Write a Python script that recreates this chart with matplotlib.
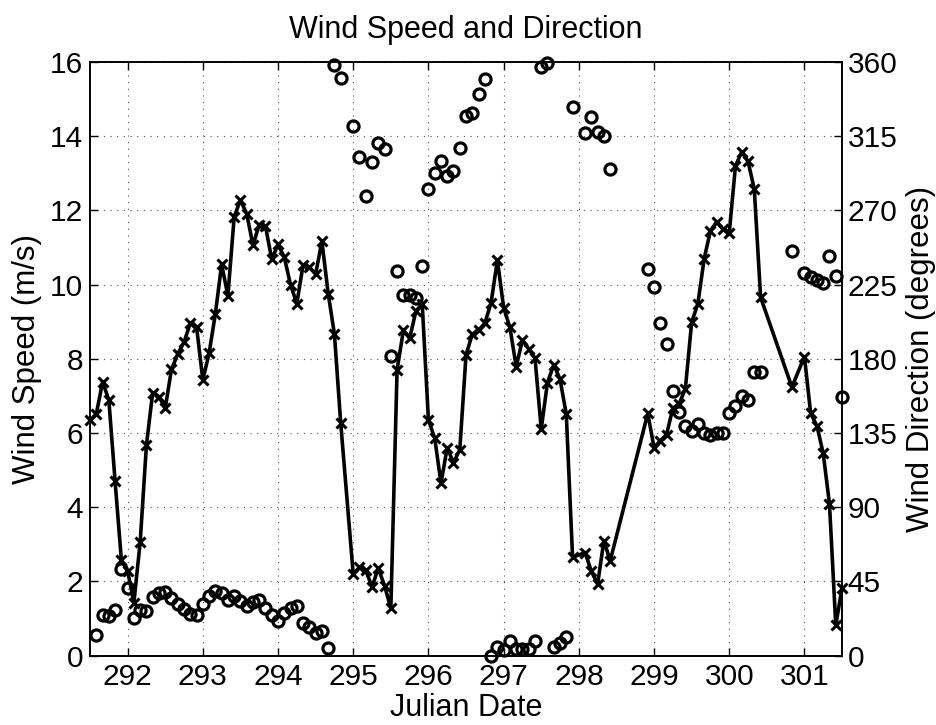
import numpy as np
import matplotlib
matplotlib.use('Agg')
from matplotlib import pyplot as plt

# two-hourly samples (julian day), with gaps where the logger dropped out
julian_date = [
    291.500, 291.583, 291.667, 291.750, 291.833, 291.917, 292.000, 292.083,
    292.167, 292.250, 292.333, 292.417, 292.500, 292.583, 292.667, 292.750,
    292.833, 292.917, 293.000, 293.083, 293.167, 293.250, 293.333, 293.417,
    293.500, 293.583, 293.667, 293.750, 293.833, 293.917, 294.000, 294.083,
    294.167, 294.250, 294.333, 294.417, 294.500, 294.583, 294.667, 294.750,
    294.833,
    295.000, 295.083, 295.167, 295.250, 295.333, 295.417, 295.500, 295.583,
    295.667, 295.750, 295.833, 295.917, 296.000, 296.083, 296.167, 296.250,
    296.333, 296.417, 296.500, 296.583, 296.667, 296.750, 296.833, 296.917,
    297.000, 297.083, 297.167, 297.250, 297.333, 297.417, 297.500, 297.583,
    297.667, 297.750, 297.833, 297.917,
    298.083, 298.167, 298.250, 298.333, 298.417,
    298.917, 299.000, 299.083, 299.167, 299.250, 299.333, 299.417, 299.500,
    299.583, 299.667, 299.750, 299.833, 299.917, 300.000, 300.083, 300.167,
    300.250, 300.333, 300.417,
    300.833,
    301.000, 301.083, 301.167, 301.250, 301.333, 301.417, 301.500,
]

# m/s
wind_speed = [
    6.35, 6.51, 7.38, 6.89, 4.70, 2.57, 2.28, 1.43,
    3.07, 5.68, 7.09, 6.98, 6.67, 7.72, 8.13, 8.45,
    8.96, 8.85, 7.43, 8.15, 9.22, 10.55, 9.70, 11.83,
    12.28, 11.91, 11.06, 11.62, 11.57, 10.68, 11.09, 10.74,
    9.99, 9.49, 10.53, 10.47, 10.28, 11.17, 9.76, 8.66,
    6.28,
    2.19, 2.38, 2.30, 1.85, 2.36, 1.88, 1.28, 7.70,
    8.77, 8.55, 9.28, 9.49, 6.35, 5.87, 4.65, 5.61,
    5.20, 5.55, 8.11, 8.66, 8.77, 8.96, 9.51, 10.66,
    9.38, 8.85, 7.79, 8.51, 8.27, 8.02, 6.11, 7.36,
    7.84, 7.45, 6.51, 2.65,
    2.78, 2.27, 1.93, 3.10, 2.56,
    6.53, 5.61, 5.79, 5.96, 6.67, 6.78, 7.20, 8.98,
    9.49, 10.70, 11.45, 11.69, 11.49, 11.39, 13.20, 13.58,
    13.32, 12.58, 9.66,
    7.24,
    8.06, 6.53, 6.19, 5.45, 4.09, 0.82, 1.83,
]

# degrees
wind_dir = [
    np.nan, 12.4, 24.4, 23.9, 27.5, 52.4, 41.2, 22.7,
    28.0, 27.3, 35.7, 38.3, 38.8, 35.2, 31.6, 28.5,
    25.1, 24.9, 31.6, 35.9, 39.5, 38.3, 33.5, 36.4,
    33.3, 30.4, 32.3, 34.0, 28.7, 24.9, 21.3, 25.6,
    29.2, 29.9, 20.1, 17.2, 13.6, 14.8, 4.8, 358.0,
    350.5,
    321.2, 302.6, 278.6, 299.2, 311.0, 307.3, 181.9, 233.1,
    219.0, 219.0, 217.1, 236.2, 282.9, 292.5, 299.7, 290.6,
    293.7, 308.0, 327.2, 328.9, 340.4, 349.9, 0.0, 5.3,
    3.4, 8.9, 4.1, 4.1, 4.1, 8.9, 356.7, 359.1,
    5.3, 7.7, 11.3, 333.0,
    316.8, 326.9, 317.8, 315.4, 295.2,
    234.6, 223.6, 201.5, 189.1, 160.8, 147.7, 139.3, 136.4,
    140.5, 135.0, 134.0, 135.0, 135.0, 147.2, 151.2, 157.3,
    154.8, 172.2, 172.2,
    245.5,
    231.8, 229.7, 227.7, 226.1, 242.6, 230.4, 156.8,
]

plt.rcParams['font.family'] = ['Liberation Sans', 'DejaVu Sans']
plt.rcParams['font.size'] = 21.5

fig = plt.figure(figsize=(9.36, 7.25), dpi=100)
ax = fig.add_axes([0.0962, 0.0956, 0.8034, 0.8189])
ax2 = ax.twinx()

ax.plot(julian_date, wind_speed, '-x', color='k', lw=2.6, ms=6.5, mew=2.2,
        clip_on=False, zorder=3)
ax.set_xlim(291.5, 301.5)
ax.set_ylim(0, 16)
ax.set_xticks(np.arange(292, 302))
ax.set_yticks(np.arange(0, 17, 2))
ax.grid(True, ls=(0, (1, 5)), lw=0.8, color='0.3')
ax.tick_params(direction='in', length=6, width=1, top=True, pad=5)
ax.set_xlabel('Julian Date', fontsize=22, labelpad=2)
ax.set_ylabel('Wind Speed (m/s)', fontsize=22.5, labelpad=6)
ax.set_title('Wind Speed and Direction', fontsize=22, pad=17)

ax2.plot(julian_date, wind_dir, 'o', mfc='none', mec='k', ms=8, mew=2.3,
         clip_on=False)
ax2.set_ylim(0, 360)
ax2.set_yticks(np.arange(0, 361, 45))
ax2.tick_params(direction='in', length=6, width=1, pad=4)
ax2.set_ylabel('Wind Direction (degrees)', fontsize=22.5, labelpad=6)

for a in (ax, ax2):
    for s in a.spines.values():
        s.set_linewidth(1.2)

fig.savefig('out.png', dpi=100)
